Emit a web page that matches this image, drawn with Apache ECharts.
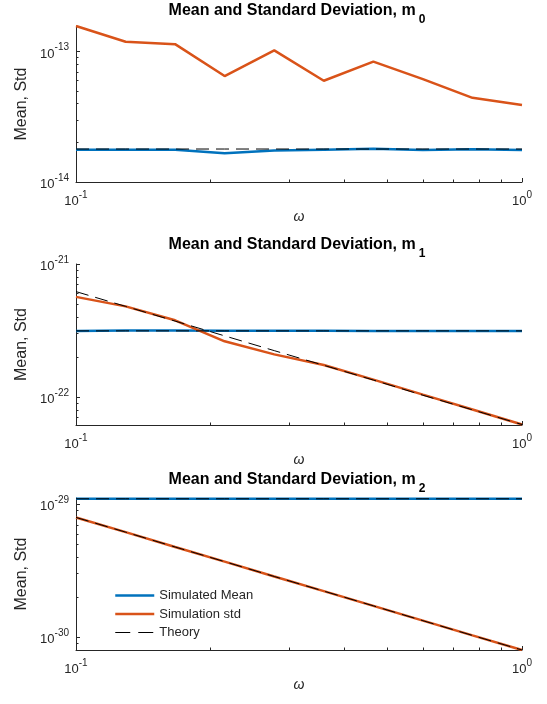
<!DOCTYPE html>
<html><head><meta charset="utf-8">
<script src="https://cdn.jsdelivr.net/npm/echarts@6/dist/echarts.min.js"></script>
<style>html,body{margin:0;padding:0;background:#fff}#c{width:547px;height:704px}</style>
</head><body><div id="c"></div>
<script>
// ---- data ----
const omega = [0.1, 0.1292, 0.1668, 0.2154, 0.2783, 0.3594, 0.4642, 0.5995, 0.7743, 1.0];
const xMajorTicks = [0.1, 1];
const xMinorTicks = [0.2, 0.3, 0.4, 0.5, 0.6, 0.7, 0.8, 0.9];

// m0
const mean0 = [1.77e-14, 1.77e-14, 1.77e-14, 1.66e-14, 1.74e-14, 1.77e-14, 1.80e-14, 1.76e-14, 1.78e-14, 1.76e-14];
const std0 = [1.57e-13, 1.19e-13, 1.14e-13, 6.49e-14, 1.02e-13, 5.97e-14, 8.37e-14, 6.15e-14, 4.42e-14, 3.90e-14];
const theoryMean0 = [1.79e-14, 1.79e-14, 1.79e-14, 1.79e-14, 1.79e-14, 1.79e-14, 1.79e-14, 1.79e-14, 1.79e-14, 1.79e-14];
const yMajor0 = [1e-14, 1e-13];
const yMinor0 = [2e-14, 3e-14, 4e-14, 5e-14, 6e-14, 7e-14, 8e-14, 9e-14];

// m1
const mean1 = [3.13e-22, 3.16e-22, 3.16e-22, 3.15e-22, 3.15e-22, 3.15e-22, 3.14e-22, 3.14e-22, 3.14e-22, 3.14e-22];
const std1 = [5.66e-22, 4.80e-22, 3.77e-22, 2.62e-22, 2.09e-22, 1.74e-22, 1.35e-22, 1.04e-22, 8.05e-23, 6.2e-23];
const theoryMean1 = [3.14e-22, 3.14e-22, 3.14e-22, 3.14e-22, 3.14e-22, 3.14e-22, 3.14e-22, 3.14e-22, 3.14e-22, 3.14e-22];
const theoryStd1 = [6.2e-22, 4.80e-22, 3.72e-22, 2.88e-22, 2.23e-22, 1.73e-22, 1.34e-22, 1.03e-22, 8.0e-23, 6.2e-23];
const yMajor1 = [1e-22, 1e-21];
const yMinor1 = [7e-23, 8e-23, 9e-23, 2e-22, 3e-22, 4e-22, 5e-22, 6e-22, 7e-22, 8e-22, 9e-22];

// m2
const mean2 = [1.10e-29, 1.10e-29, 1.10e-29, 1.10e-29, 1.10e-29, 1.10e-29, 1.10e-29, 1.10e-29, 1.10e-29, 1.10e-29];
const std2 = [7.96e-30, 6.17e-30, 4.77e-30, 3.70e-30, 2.86e-30, 2.22e-30, 1.72e-30, 1.33e-30, 1.03e-30, 8.0e-31];
const theoryMean2 = [1.10e-29, 1.10e-29, 1.10e-29, 1.10e-29, 1.10e-29, 1.10e-29, 1.10e-29, 1.10e-29, 1.10e-29, 1.10e-29];
const theoryStd2 = [7.96e-30, 6.17e-30, 4.77e-30, 3.70e-30, 2.86e-30, 2.22e-30, 1.72e-30, 1.33e-30, 1.03e-30, 8.0e-31];
const yMajor2 = [1e-30, 1e-29];
const yMinor2 = [9e-31, 2e-30, 3e-30, 4e-30, 5e-30, 6e-30, 7e-30, 8e-30, 9e-30];

const titles = ['0', '1', '2'];
const seriesNames = ['Simulated Mean', 'Simulation std', 'Theory'];

// ---- build ----
const FONT = "'Liberation Sans', Arial, Helvetica, sans-serif";
const AX = '#262626';
const BLUE = '#0072BD', ORANGE = '#D95319';
const DASH = [13, 7];

// ECharts rounds very small numbers to 20 decimals, so each panel's log axis
// works in units of 10^-scaleExp; tick labels add the exponent back.
const panels = [
  {scaleExp: 14, mean: mean0, std: std0, tMean: theoryMean0, tStd: null, yMin: 1e-14, yMax: 1.57e-13, yMajor: yMajor0, yMinor: yMinor0, top: 26, height: 156, titleTop: 3},
  {scaleExp: 22, mean: mean1, std: std1, tMean: theoryMean1, tStd: theoryStd1, yMin: 6.15e-23, yMax: 1e-21, yMajor: yMajor1, yMinor: yMinor1, top: 264, height: 161, titleTop: 237},
  {scaleExp: 30, mean: mean2, std: std2, tMean: theoryMean2, tStd: theoryStd2, yMin: 8.0e-31, yMax: 1.115e-29, yMajor: yMajor2, yMinor: yMinor2, top: 498, height: 152, titleTop: 472}
];

const richTick = {
  b: {fontSize: 13, lineHeight: 18, verticalAlign: 'bottom', color: AX, fontFamily: FONT},
  e: {fontSize: 10, verticalAlign: 'top', color: AX, fontFamily: FONT}
};
function expFmt(shift) {
  return function (v) { const e = Math.round(Math.log10(v)) - shift; return '{b|10}{e|' + e + '}'; };
}

const grid = [], xAxis = [], yAxis = [], series = [], title = [];
panels.forEach((p, k) => {
  const S = Math.pow(10, p.scaleExp);
  const sc = v => Number((v * S).toPrecision(6));
  const pairs = ys => omega.map((x, i) => [x, sc(ys[i])]);
  grid.push({left: 76, width: 446, top: p.top, height: p.height, containLabel: false, outerBoundsMode: 'none'});
  title.push({
    text: '{a|Mean and Standard Deviation, m}{s|' + titles[k] + '}',
    left: 297, top: p.titleTop, textAlign: 'center', padding: 0,
    textStyle: {rich: {
      a: {fontSize: 16, fontWeight: 'bold', color: '#000', fontFamily: FONT, verticalAlign: 'top'},
      s: {fontSize: 12, fontWeight: 'bold', color: '#000', fontFamily: FONT, lineHeight: 23, verticalAlign: 'bottom', padding: [0, 0, 0, 3]}
    }}
  });
  const xi = xAxis.length, yi = yAxis.length;
  xAxis.push({
    gridIndex: k, type: 'log', min: 0.1, max: 1, position: 'bottom',
    axisLine: {show: true, lineStyle: {color: AX, width: 1}},
    axisTick: {show: true, inside: true, length: 4, customValues: xMajorTicks, lineStyle: {color: AX, width: 1}},
    axisLabel: {show: true, customValues: xMajorTicks, formatter: expFmt(0), rich: richTick, margin: 8},
    splitLine: {show: false},
    name: 'ω', nameLocation: 'middle', nameGap: 28,
    nameTextStyle: {fontStyle: 'italic', fontSize: 14, color: AX, fontFamily: FONT}
  });
  xAxis.push({
    gridIndex: k, type: 'log', min: 0.1, max: 1, position: 'bottom',
    axisLine: {show: false},
    axisTick: {show: true, inside: true, length: 2.5, customValues: xMinorTicks, lineStyle: {color: AX, width: 1}},
    axisLabel: {show: false}, splitLine: {show: false}
  });
  yAxis.push({
    gridIndex: k, type: 'log', min: sc(p.yMin), max: sc(p.yMax), position: 'left',
    axisLine: {show: true, lineStyle: {color: AX, width: 1}},
    axisTick: {show: true, inside: true, length: 4, customValues: p.yMajor.map(sc), lineStyle: {color: AX, width: 1}},
    axisLabel: {show: true, customValues: p.yMajor.map(sc), formatter: expFmt(p.scaleExp), rich: richTick, margin: 7},
    splitLine: {show: false},
    name: 'Mean, Std', nameLocation: 'middle', nameGap: 45, nameRotate: 90,
    nameTextStyle: {fontSize: 16, color: AX, fontFamily: FONT}
  });
  yAxis.push({
    gridIndex: k, type: 'log', min: sc(p.yMin), max: sc(p.yMax), position: 'left',
    axisLine: {show: false},
    axisTick: {show: true, inside: true, length: 2.5, customValues: p.yMinor.map(sc), lineStyle: {color: AX, width: 1}},
    axisLabel: {show: false}, splitLine: {show: false}
  });
  const common = {type: 'line', xAxisIndex: xi, yAxisIndex: yi, symbol: 'none', showSymbol: false, animation: false, silent: true};
  series.push(Object.assign({}, common, {name: seriesNames[0], data: pairs(p.mean), lineStyle: {color: BLUE, width: 2.5}, itemStyle: {color: BLUE}}));
  series.push(Object.assign({}, common, {name: seriesNames[1], data: pairs(p.std), lineStyle: {color: ORANGE, width: 2.5}, itemStyle: {color: ORANGE}}));
  series.push(Object.assign({}, common, {name: seriesNames[2], data: pairs(p.tMean), lineStyle: {color: '#000', width: 1, type: DASH}, itemStyle: {color: '#000'}}));
  if (p.tStd) {
    series.push(Object.assign({}, common, {name: seriesNames[2], data: pairs(p.tStd), lineStyle: {color: '#000', width: 1, type: DASH}, itemStyle: {color: '#000'}}));
  }
});

const chart = echarts.init(document.getElementById('c'), null, {renderer: 'canvas'});
chart.setOption({
  backgroundColor: '#fff',
  animation: false,
  title, grid, xAxis, yAxis, series,
  legend: {
    data: [
      {name: seriesNames[0], lineStyle: {width: 2.5, color: BLUE}},
      {name: seriesNames[1], lineStyle: {width: 2.5, color: ORANGE}},
      {name: seriesNames[2], lineStyle: {width: 1, color: '#000', type: [15, 8]}}
    ],
    orient: 'vertical', left: 114, top: 589, padding: 0,
    itemWidth: 39, itemHeight: 14, itemGap: 5.5, selectedMode: false,
    itemStyle: {opacity: 0, borderWidth: 0},
    textStyle: {fontSize: 13, color: AX, fontFamily: FONT}
  }
});
</script></body></html>
